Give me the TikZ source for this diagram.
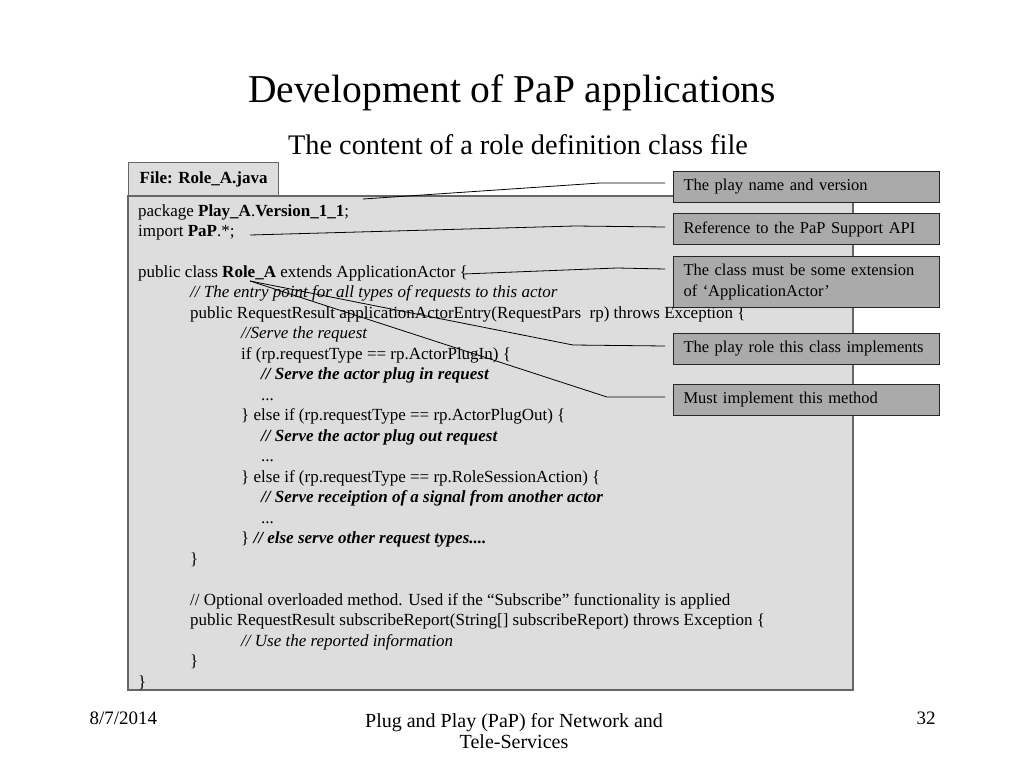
\documentclass[tikz,border=0pt]{standalone}
\usepackage{fontspec}
\setmainfont{Liberation Serif}
\usetikzlibrary{calc}

\definecolor{codegray}{HTML}{DDDDDD}
\definecolor{notegray}{HTML}{AAAAAA}
\definecolor{framegray}{HTML}{666666}

\begin{document}
\begin{tikzpicture}[x=1pt, y=-1pt,
	codeline/.style={anchor=base west, inner sep=0pt, font=\fontsize{17}{20}\selectfont},
	note/.style={draw=black!85, fill=notegray, line width=1pt, anchor=north west, minimum width=266, minimum height=31, text width=246, inner xsep=10, align=left, font=\fontsize{16.5}{21}\selectfont},
	leader/.style={line width=0.8pt},
	]
	\useasboundingbox (0,0) rectangle (1024,768);

	% titles
	\node[font=\fontsize{39.5}{44}\selectfont] (title) at (512,93) {Development of PaP applications};
	\node[font=\fontsize{28.3}{32}\selectfont] (subtitle) at (518,145) {The content of a role definition class file};

	% code frame
	\node[draw=framegray, fill=codegray, line width=1.3pt, anchor=north west, minimum width=150, minimum height=33, inner xsep=8, font=\fontsize{17}{20}\selectfont\bfseries] (file) at (128,162) {File: Role\_A.java};
	\draw[draw=framegray, fill=codegray, line width=1.3pt] (128,196) rectangle (853,690);

	\def\ls{20.48}
	\node[codeline] (l0) at (138,{216+0*\ls}) {package \textbf{Play\_A}.\textbf{Version\_1\_1};};
	\node[codeline] (l1) at (138,{216+1*\ls}) {import \textbf{PaP}.*;};
	\node[codeline] (l3) at (138,{216+3*\ls}) {public class \textbf{Role\_A} extends ApplicationActor \{};
	\node[codeline] (l4) at (190,{216+4*\ls}) {\itshape // The entry point for all types of requests to this actor};
	\node[codeline] (l5) at (190,{216+5*\ls}) {public RequestResult applicationActorEntry(RequestPars\ \ rp) throws Exception \{};
	\node[codeline] (l6) at (241,{216+6*\ls}) {\itshape //Serve the request};
	\node[codeline] (l7) at (241,{216+7*\ls}) {if (rp.requestType == rp.ActorPlugIn) \{};
	\node[codeline] (l8) at (261,{216+8*\ls}) {\bfseries\itshape // Serve the actor plug in request};
	\node[codeline] (l9) at (261,{216+9*\ls}) {...};
	\node[codeline] (l10) at (241,{216+10*\ls}) {\} else if (rp.requestType == rp.ActorPlugOut) \{};
	\node[codeline] (l11) at (261,{216+11*\ls}) {\bfseries\itshape // Serve the actor plug out request};
	\node[codeline] (l12) at (261,{216+12*\ls}) {...};
	\node[codeline] (l13) at (241,{216+13*\ls}) {\} else if (rp.requestType == rp.RoleSessionAction) \{};
	\node[codeline] (l14) at (261,{216+14*\ls}) {\bfseries\itshape // Serve receiption of a signal from another actor};
	\node[codeline] (l15) at (261,{216+15*\ls}) {...};
	\node[codeline] (l16) at (241,{216+16*\ls}) {\} \textbf{\itshape // else serve other request types....}};
	\node[codeline] (l17) at (190,{216+17*\ls}) {\}};
	\node[codeline] (l19) at (190,{216+19*\ls}) {// Optional overloaded method. Used if the ``Subscribe'' functionality is applied};
	\node[codeline] (l20) at (190,{216+20*\ls}) {public RequestResult subscribeReport(String[] subscribeReport) throws Exception \{};
	\node[codeline] (l21) at (241,{216+21*\ls}) {\itshape // Use the reported information};
	\node[codeline] (l22) at (190,{216+22*\ls}) {\}};
	\node[codeline] (l23) at (138,{216+23*\ls}) {\}};

	% notes
	\node[note] (version) at (673,171) {The play name and version};
	\node[note] (api) at (673,213) {Reference to the PaP Support API};
	\node[note, minimum height=51] (extends) at (673,256) {The class must be some extension\\of `ApplicationActor'};
	\node[note] (role) at (673,333) {The play role this class implements};
	\node[note] (entry) at (673,384) {Must implement this method};

	% leader lines
	\coordinate (pVersion) at (363,199);
	\coordinate (pApi) at (250,235);
	\coordinate (pExtends) at (463,274);
	\coordinate (pRole) at (250,281);
	\draw[leader] (pVersion) -- (600,183) -- ($(version.west)+(-8,-4)$);
	\draw[leader] (pApi) -- (575,226) -- ($(api.west)+(-8,-2)$);
	\draw[leader] (pExtends) -- (617,268) -- ($(extends.west)+(-8,-13)$);
	\draw[leader] (pRole) -- (573,345) -- ($(role.west)+(-8,-3)$);
	\draw[leader] (pRole) -- (607,397) -- ($(entry.west)+(-8,-3)$);

	% footer
	\node[anchor=west, font=\fontsize{19}{22}\selectfont] (date) at (86,718) {8/7/2014};
	\node[align=center, font=\fontsize{20}{21}\selectfont] (footer) at (514,731) {Plug and Play (PaP) for Network and\\Tele-Services};
	\node[font=\fontsize{19}{22}\selectfont] (page) at (926,718) {32};

\end{tikzpicture}
\end{document}
